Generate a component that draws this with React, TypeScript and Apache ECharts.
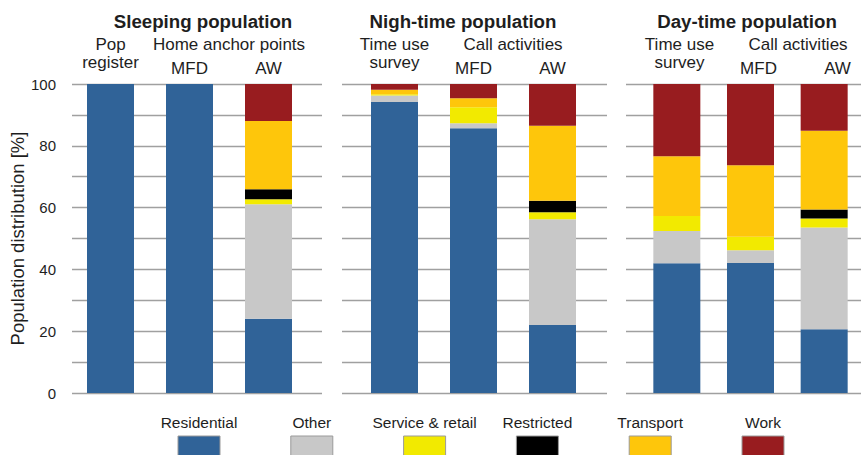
import React, { useEffect, useRef } from "react";
import * as echarts from "echarts";

// ---- Data ----
const panelTitles = ["Sleeping population", "Nigh-time population", "Day-time population"];
const groupLabels = ["Home anchor points", "Call activities", "Call activities"];
const columnLabels = [
  [["Pop", "register"], ["MFD"], ["AW"]],
  [["Time use", "survey"], ["MFD"], ["AW"]],
  [["Time use", "survey"], ["MFD"], ["AW"]],
];
const categories = [
  ["Pop register", "Home MFD", "Home AW"],
  ["Time use survey night", "Call MFD night", "Call AW night"],
  ["Time use survey day", "Call MFD day", "Call AW day"],
];
const seriesNames = ["Residential", "Other", "Service & retail", "Restricted", "Transport", "Work"];
const seriesColors = ["#306398", "#C8C8C8", "#F2EA00", "#000000", "#FEC60B", "#981C1F"];

// values per column: [sleep PR, sleep MFD, sleep AW, night TUS, night MFD, night AW, day TUS, day MFD, day AW]
const residential = [100, 100, 24, 94.2, 85.7, 22, 42, 42.1, 20.6];
const other = [0, 0, 37.1, 2.1, 1.6, 34.2, 10.4, 4.1, 33];
const serviceRetail = [0, 0, 1.6, 0.4, 5.2, 2.3, 4.9, 4.4, 2.9];
const restricted = [0, 0, 3.2, 0, 0, 3.7, 0, 0, 2.9];
const transport = [0, 0, 22.1, 1.4, 2.9, 24.3, 19.3, 23.1, 25.5];
const work = [0, 0, 12, 1.9, 4.6, 13.5, 23.4, 26.3, 15.1];
const seriesValues = [residential, other, serviceRetail, restricted, transport, work];

const yTicks = [0, 20, 40, 60, 80, 100];

// ---- Layout ----
const FONT = "Liberation Sans, Arial, Helvetica, sans-serif";
const TEXT = "#1e1e1e";
const PLOT_TOP = 84;
const PLOT_H = 309;
const bgLeft = [72, 342, 626];
const bgWidth = [250, 265, 244];
const bandLeft = [71, 355, 640];
const BAND = 79;
const titleX = [203, 463, 747];

export default function App() {
  const ref = useRef<HTMLDivElement>(null);
  useEffect(() => {
    if (!ref.current) return;
    const chart = echarts.init(ref.current, null, { renderer: "svg" });

    const grid: any[] = [];
    const xAxis: any[] = [];
    const yAxis: any[] = [];
    const series: any[] = [];
    const graphic: any[] = [];

    // background grids (gridlines + y axis)
    for (let p = 0; p < 3; p++) {
      grid.push({ left: bgLeft[p], top: PLOT_TOP, width: bgWidth[p], height: PLOT_H });
      xAxis.push({ type: "value", gridIndex: p, min: 0, max: 1, show: false });
      yAxis.push({
        type: "value",
        gridIndex: p,
        min: 0,
        max: 100,
        interval: 10,
        axisLine: { show: false },
        axisTick: { show: false },
        splitLine: { show: true, lineStyle: { color: "#a0a0a0", width: 1.4 } },
        axisLabel: {
          show: p === 0,
          margin: 16,
          fontSize: 15,
          fontFamily: FONT,
          color: TEXT,
          formatter: (v: number) => (yTicks.includes(v) ? String(v) : ""),
        },
        name: p === 0 ? "Population distribution [%]" : "",
        nameLocation: "middle",
        nameRotate: 90,
        nameGap: 45,
        nameTextStyle: { fontSize: 18.5, fontFamily: FONT, color: TEXT },
      });
    }
    // bar grids
    for (let p = 0; p < 3; p++) {
      grid.push({ left: bandLeft[p], top: PLOT_TOP, width: BAND * 3, height: PLOT_H });
      xAxis.push({ type: "category", gridIndex: 3 + p, data: categories[p], show: false });
      yAxis.push({ type: "value", gridIndex: 3 + p, min: 0, max: 100, show: false });
      seriesNames.forEach((name, s) => {
        series.push({
          type: "bar",
          name,
          xAxisIndex: 3 + p,
          yAxisIndex: 3 + p,
          stack: "panel" + p,
          barWidth: 47,
          itemStyle: { color: seriesColors[s] },
          data: seriesValues[s].slice(p * 3, p * 3 + 3),
        });
      });

      // titles & headers
      graphic.push({
        type: "text",
        x: titleX[p],
        y: 21,
        style: {
          text: panelTitles[p],
          fontSize: 18.7,
          fontWeight: "bold",
          fontFamily: FONT,
          fill: TEXT,
          align: "center",
          verticalAlign: "middle",
        },
      });
      const centers = [0, 1, 2].map((i) => bandLeft[p] + BAND * (i + 0.5));
      graphic.push({
        type: "text",
        x: (centers[1] + centers[2]) / 2,
        y: 44,
        style: {
          text: groupLabels[p],
          fontSize: 17,
          fontFamily: FONT,
          fill: TEXT,
          align: "center",
          verticalAlign: "middle",
        },
      });
      columnLabels[p].forEach((lines, i) => {
        const ys = lines.length === 2 ? [44, 62] : [68];
        lines.forEach((line, k) => {
          graphic.push({
            type: "text",
            x: centers[i],
            y: ys[k],
            style: {
              text: line,
              fontSize: 17,
              fontFamily: FONT,
              fill: TEXT,
              align: "center",
              verticalAlign: "middle",
            },
          });
        });
      });
    }

    // legend (text above swatch)
    seriesNames.forEach((name, s) => {
      const cx = 199 + s * 112.8;
      graphic.push({
        type: "text",
        x: cx,
        y: 422,
        style: {
          text: name,
          fontSize: 15.5,
          fontFamily: FONT,
          fill: TEXT,
          align: "center",
          verticalAlign: "middle",
        },
      });
      graphic.push({
        type: "rect",
        shape: { x: cx - 21, y: 436, width: 42, height: 24 },
        style: { fill: seriesColors[s], stroke: "#9a9a9a", lineWidth: 1 },
      });
    });

    chart.setOption({
      animation: false,
      backgroundColor: "#ffffff",
      grid,
      xAxis,
      yAxis,
      series,
      graphic,
    });
    return () => chart.dispose();
  }, []);

  return (
    <div
      ref={ref}
      style={{ position: "absolute", left: 0, top: 0, width: 861, height: 455 }}
    />
  );
}
